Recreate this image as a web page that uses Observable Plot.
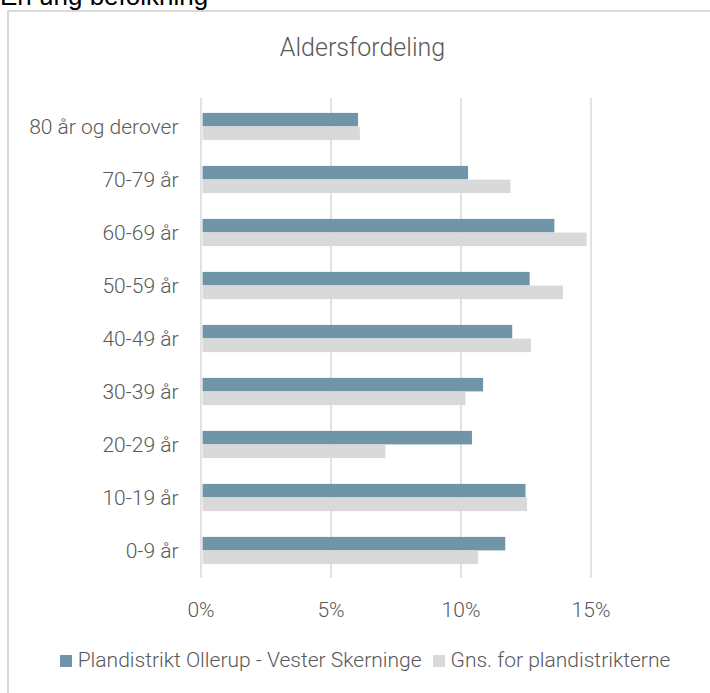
<!DOCTYPE html>
<html>
<head>
<meta charset="utf-8">
<script src="https://cdn.jsdelivr.net/npm/d3@7"></script>
<script src="https://cdn.jsdelivr.net/npm/@observablehq/plot@0.6"></script>
<style>
  html, body { margin: 0; padding: 0; background: #fff; width: 710px; height: 693px; overflow: hidden; }
  body { position: relative; font-family: Roboto, "Open Sans", sans-serif; font-weight: 300; }
  #heading { position: absolute; left: 0; top: -17px; font-size: 26px; line-height: 26px; color: #000; font-family: "Liberation Sans", Arial, sans-serif; font-weight: 400; white-space: nowrap; }
  #frame { position: absolute; left: 7px; top: 10px; width: 720px; height: 700px; border: 2px solid #d9d9d9; box-sizing: border-box; }
  #title { position: absolute; left: 0; width: 725px; top: 36px; line-height: 24px; text-align: center; font-size: 25px; color: #595959; }
  #chart { position: absolute; left: 0; top: 0; }
  #legend { position: absolute; left: 0; width: 730px; top: 650px; line-height: 21px; text-align: center; font-size: 21px; color: #595959; white-space: nowrap; }
  .sw { display: inline-block; width: 12px; height: 12px; margin-right: 6px; vertical-align: 0px; }
  .item { margin-right: 11px; }
  .item:last-child { margin-right: 0; }
</style>
</head>
<body>
<div id="heading">En ung befolkning</div>
<div id="frame"></div>
<div id="title">Aldersfordeling</div>
<div id="chart"></div>
<div id="legend"></div>
<script>
const categories = ["80 år og derover", "70-79 år", "60-69 år", "50-59 år", "40-49 år", "30-39 år", "20-29 år", "10-19 år", "0-9 år"];
const seriesNames = ["Plandistrikt Ollerup - Vester Skerninge", "Gns. for plandistrikterne"];
const plandistrikt = [0.0606, 0.1029, 0.1361, 0.1266, 0.1199, 0.1087, 0.1044, 0.1250, 0.1172];
const gennemsnit   = [0.0613, 0.1192, 0.1485, 0.1394, 0.1271, 0.1019, 0.0711, 0.1256, 0.1068];
const xTicks = [0, 0.05, 0.10, 0.15];
const colors = ["#7094a8", "#d9d9d9"];

const rows = [];
categories.forEach((c, i) => {
  rows.push({category: c, series: seriesNames[0], value: plandistrikt[i]});
  rows.push({category: c, series: seriesNames[1], value: gennemsnit[i]});
});

const chart = Plot.plot({
  width: 710,
  height: 640,
  marginTop: 98,
  marginBottom: 62,
  marginLeft: 200,
  marginRight: 0,
  style: {fontFamily: 'Roboto, "Open Sans", sans-serif', fontWeight: 300, fontSize: "21px", color: "#595959", background: "transparent"},
  x: {domain: [0, 0.2], range: [200.5, 720.5], ticks: xTicks, tickFormat: d => Math.round(d * 100) + "%", tickSize: 0, tickPadding: 24, label: null},
  y: {domain: categories, padding: 0, tickSize: 0, tickPadding: 22, label: null},
  color: {domain: seriesNames, range: colors},
  marks: [
    Plot.gridX(xTicks, {stroke: "#d9d9d9", strokeOpacity: 1, strokeWidth: 1.5}),
    Plot.barX(rows.filter(d => d.series === seriesNames[0]), {x1: 0.0008, x2: "value", y: "category", fill: "series", insetTop: 12.9, insetBottom: 26.6}),
    Plot.barX(rows.filter(d => d.series === seriesNames[1]), {x1: 0.0008, x2: "value", y: "category", fill: "series", insetTop: 26.6, insetBottom: 12.9})
  ]
});
document.getElementById("chart").appendChild(chart);

const legend = document.getElementById("legend");
seriesNames.forEach((s, i) => {
  const span = document.createElement("span");
  span.className = "item";
  span.innerHTML = `<span class="sw" style="background:${colors[i]}"></span>${s}`;
  legend.appendChild(span);
});
</script>
</body>
</html>
